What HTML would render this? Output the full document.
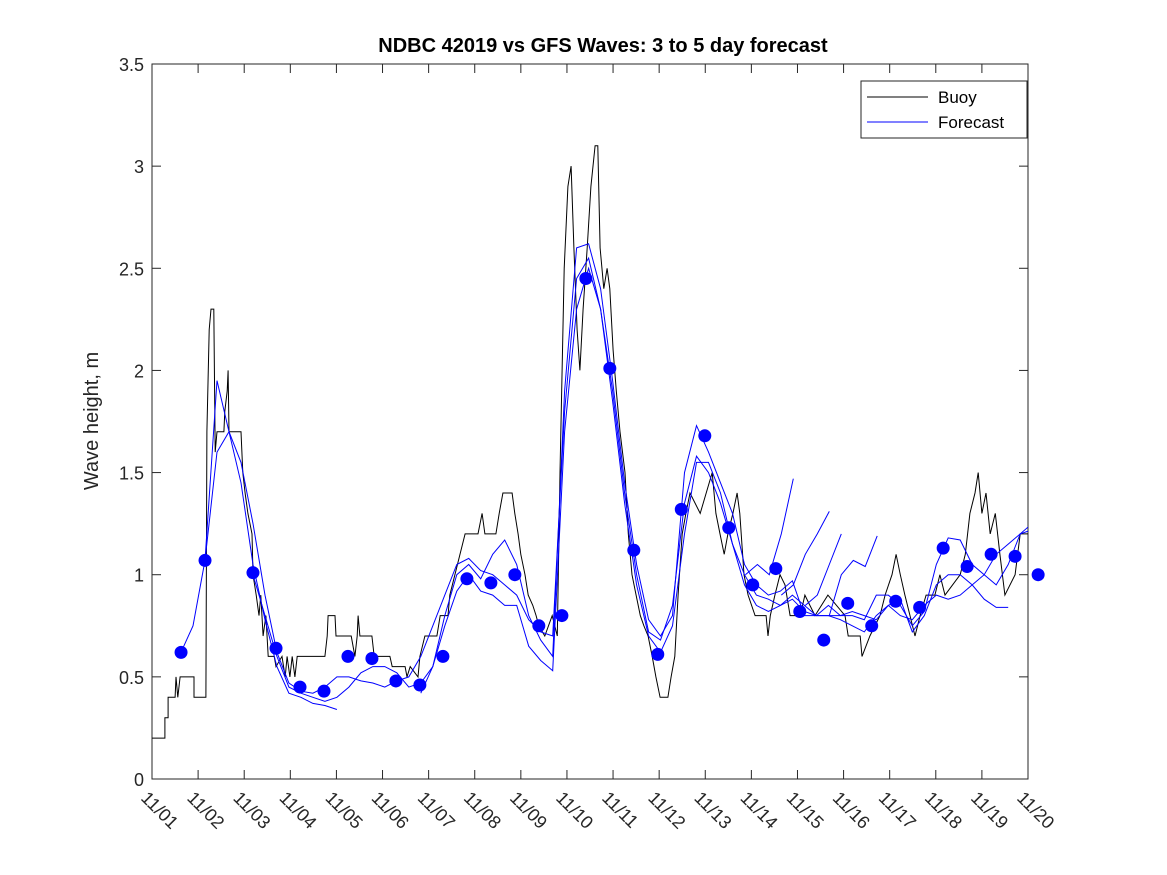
<!DOCTYPE html>
<html><head><meta charset="utf-8"><style>
body{margin:0;background:#fff;}
svg{display:block;font-family:"Liberation Sans","DejaVu Sans",sans-serif;}
</style></head><body>
<svg id="chart" width="1167" height="875" viewBox="0 0 1167 875" xmlns="http://www.w3.org/2000/svg">
<rect width="1167" height="875" fill="#fff"/>
<text x="603" y="52" text-anchor="middle" font-size="20" font-weight="bold" fill="#000">NDBC 42019 vs GFS Waves: 3 to 5 day forecast</text>
<text transform="translate(98,421) rotate(-90)" text-anchor="middle" font-size="20" fill="#262626">Wave height, m</text>
<g id="plot"></g>
<g>
<rect x="861" y="81" width="166" height="57" fill="#fff" stroke="#262626" stroke-width="1"/>
<line x1="867" y1="97" x2="928" y2="97" stroke="#000" stroke-width="1"/>
<text x="938" y="103" font-size="17" fill="#000">Buoy</text>
<line x1="867" y1="122" x2="928" y2="122" stroke="#0000ff" stroke-width="1"/>
<text x="938" y="128" font-size="17" fill="#000">Forecast</text>
</g>
</svg>
<script>
const yTicks=[0,0.5,1,1.5,2,2.5,3,3.5];
const yTickLabels=["0","0.5","1","1.5","2","2.5","3","3.5"];
const xTickLabels=["11/01","11/02","11/03","11/04","11/05","11/06","11/07","11/08","11/09","11/10","11/11","11/12","11/13","11/14","11/15","11/16","11/17","11/18","11/19","11/20"];
// buoy observations: day offsets from 11/01 and heights (m)
const buoyDays=[0,0.28,0.28,0.35,0.35,0.50,0.52,0.56,0.61,0.91,0.91,1.17,1.19,1.24,1.28,1.34,1.37,1.41,1.56,1.58,1.63,1.65,1.67,1.82,1.93,1.97,2.02,2.08,2.17,2.19,2.26,2.32,2.36,2.41,2.47,2.52,2.65,2.69,2.82,2.89,2.93,2.99,3.04,3.10,3.15,3.75,3.80,3.82,3.97,3.99,4.32,4.40,4.45,4.47,4.51,4.77,4.82,5.16,5.21,5.49,5.53,5.60,5.77,5.81,5.92,6.18,6.25,6.42,6.46,6.57,6.68,6.79,7.07,7.16,7.22,7.46,7.53,7.61,7.81,7.87,7.94,8.00,8.09,8.16,8.26,8.33,8.39,8.52,8.68,8.79,8.85,8.94,9.02,9.09,9.15,9.22,9.28,9.35,9.44,9.52,9.61,9.67,9.72,9.80,9.87,9.93,10.00,10.07,10.15,10.26,10.33,10.41,10.50,10.59,10.67,10.76,10.85,10.93,11.02,11.19,11.26,11.34,11.41,11.50,11.58,11.67,11.89,12.02,12.15,12.23,12.32,12.41,12.49,12.60,12.69,12.75,12.84,12.93,13.08,13.32,13.36,13.41,13.51,13.62,13.73,13.84,14.06,14.16,14.27,14.38,14.66,15.03,15.10,15.36,15.40,15.57,15.79,15.90,16.05,16.14,16.23,16.33,16.44,16.55,16.66,16.79,16.98,17.09,17.20,17.53,17.64,17.74,17.85,17.92,18.00,18.09,18.18,18.29,18.39,18.50,18.72,18.83,19.00];
const buoyVals=[0.2,0.2,0.3,0.3,0.4,0.4,0.5,0.4,0.5,0.5,0.4,0.4,1.7,2.2,2.3,2.3,1.6,1.7,1.7,1.8,1.9,2.0,1.7,1.7,1.7,1.5,1.4,1.3,1.2,1.0,0.9,0.8,0.9,0.7,0.8,0.6,0.6,0.55,0.6,0.5,0.6,0.5,0.6,0.5,0.6,0.6,0.7,0.8,0.8,0.7,0.7,0.6,0.7,0.8,0.7,0.7,0.6,0.6,0.55,0.55,0.5,0.55,0.5,0.6,0.7,0.7,0.8,0.8,0.9,1.0,1.1,1.2,1.2,1.3,1.2,1.2,1.3,1.4,1.4,1.3,1.2,1.1,1.0,0.9,0.85,0.8,0.75,0.7,0.8,0.7,1.5,2.5,2.9,3.0,2.6,2.2,2.0,2.3,2.6,2.9,3.1,3.1,2.6,2.4,2.5,2.4,2.1,1.9,1.7,1.5,1.2,1.0,0.9,0.8,0.75,0.7,0.6,0.5,0.4,0.4,0.5,0.6,0.9,1.2,1.3,1.4,1.3,1.4,1.5,1.3,1.2,1.1,1.2,1.3,1.4,1.3,1.0,0.9,0.8,0.8,0.7,0.8,0.9,1.0,0.95,0.8,0.8,0.9,0.85,0.8,0.9,0.8,0.7,0.7,0.6,0.7,0.8,0.9,1.0,1.1,1.0,0.9,0.8,0.7,0.8,0.9,0.9,1.0,0.9,1.0,1.1,1.3,1.4,1.5,1.3,1.4,1.2,1.3,1.1,0.9,1.0,1.2,1.2];
// forecast runs: start day, values every 0.26 day
const fcStep=0.26;
const fcStarts=[0.63,1.15,2.19,5.83,12.87,13.65,14.17,14.69];
const fcLineA=[0.62,0.75,1.07,1.95,1.7,1.45,1.05,0.78,0.55,0.42,0.4,0.37,0.36,0.34];
const fcLineB=[1.07,1.6,1.7,1.55,1.25,0.9,0.62,0.47,0.43,0.42,0.45,0.5,0.5,0.48,0.47,0.45,0.48,0.5,0.6,0.75,0.9,1.05,1.08,1.02,1.0,0.95,0.9,0.78,0.72,0.7,1.8,2.45,2.55,2.3,1.9,1.4,1.0,0.72,0.68,0.85,1.35,1.58,1.5,1.35,1.15,1.0,0.9,0.88,0.85,0.9,0.85,0.8,0.8,0.8,0.82,0.8,0.78,0.85,0.8,0.78,0.85,0.9,0.88,0.9,0.95,1.0,1.1,1.15,1.2,1.22];
const fcLineC=[1.0,0.8,0.6,0.45,0.42,0.4,0.38,0.4,0.45,0.52,0.55,0.55,0.52,0.45,0.47,0.55,0.8,1.0,1.05,0.98,1.1,1.17,1.05,0.8,0.68,0.6,1.9,2.6,2.62,2.4,1.95,1.45,1.05,0.78,0.7,0.8,1.5,1.73,1.6,1.45,1.3,1.05,0.95,0.9,0.92,0.97,0.8,0.8,0.85,0.8,0.8,0.78,0.9,0.9,0.85,0.75,0.82,1.05,1.18,1.17,1.05,1.0,0.95,1.05,1.2,1.25];
const fcLineD=[0.42,0.55,0.75,0.92,1.0,0.92,0.9,0.85,0.85,0.65,0.58,0.53,1.7,2.3,2.5,2.3,1.85,1.35,0.95,0.7,0.62,0.75,1.2,1.55,1.55,1.4,1.15,0.95,0.85,0.82,0.85,0.88,0.82,0.8,0.8,0.78,0.75,0.72,0.8,0.85,0.88,0.72,0.8,0.95,1.0,1.0,0.95,0.88,0.84,0.84];
const fcLineE=[1.0,1.05,1.0,1.2,1.47];
const fcLineF=[0.9,0.95,1.1,1.2,1.31];
const fcLineG=[0.85,0.9,1.05,1.2];
const fcLineH=[0.8,1.0,1.07,1.04,1.19];
const fcLines=[fcLineA,fcLineB,fcLineC,fcLineD,fcLineE,fcLineF,fcLineG,fcLineH];
const dotDays=[0.63,1.15,2.19,2.69,3.21,3.73,4.25,4.77,5.29,5.81,6.31,6.83,7.35,7.87,8.39,8.89,9.41,9.93,10.45,10.97,11.48,11.99,12.51,13.03,13.53,14.05,14.57,15.09,15.61,16.13,16.65,17.16,17.68,18.2,18.72,19.22];
const dotVals=[0.62,1.07,1.01,0.64,0.45,0.43,0.6,0.59,0.48,0.46,0.6,0.98,0.96,1.0,0.75,0.8,2.45,2.01,1.12,0.61,1.32,1.68,1.23,0.95,1.03,0.82,0.68,0.86,0.75,0.87,0.84,1.13,1.04,1.10,1.09,1.0];

const X0=152,X1=1028,Y0=779,Y1=64,DAYS=19,YMAX=3.5;
const sx=d=>X0+(X1-X0)*d/DAYS;
const sy=v=>Y0-(Y0-Y1)*v/YMAX;
const NS="http://www.w3.org/2000/svg";
const plot=document.getElementById('plot');
function mk(t,a,p){const e=document.createElementNS(NS,t);for(const k in a)e.setAttribute(k,a[k]);(p||plot).appendChild(e);return e;}
const clip=mk('clipPath',{id:'pc'});mk('rect',{x:X0,y:Y1,width:X1-X0,height:Y0-Y1},clip);
const frame=mk('rect',{x:X0,y:Y1,width:X1-X0,height:Y0-Y1,fill:'none',stroke:'#262626','stroke-width':1});


yTicks.forEach((v,i)=>{
 const y=sy(v);
 mk('line',{x1:X0,y1:y,x2:X0+9,y2:y,stroke:'#262626'});
 mk('line',{x1:X1,y1:y,x2:X1-9,y2:y,stroke:'#262626'});
 const t=mk('text',{x:X0-8,y:y+7,'text-anchor':'end','font-size':18,fill:'#262626'});
 t.textContent=yTickLabels[i];
 
 
});
xTickLabels.forEach((l,i)=>{
 const x=sx(i);
 mk('line',{x1:x,y1:Y0,x2:x,y2:Y0-9,stroke:'#262626'});
 mk('line',{x1:x,y1:Y1,x2:x,y2:Y1+9,stroke:'#262626'});
 const t=mk('text',{transform:`translate(${x-12},${Y0+20}) rotate(45)`,'font-size':18,fill:'#262626'});
 t.textContent=l;
 
 
});
const g=mk('g',{'clip-path':'url(#pc)'});
const bp=buoyDays.map((d,i)=>sx(d).toFixed(1)+','+sy(buoyVals[i]).toFixed(1)).join(' ');
const bl=mk('polyline',{points:bp,fill:'none',stroke:'#000','stroke-width':1},g);


fcLines.forEach((vals,k)=>{
 const p=vals.map((v,i)=>sx(fcStarts[k]+i*fcStep).toFixed(1)+','+sy(v).toFixed(1)).join(' ');
 const l=mk('polyline',{points:p,fill:'none',stroke:'#0000ff','stroke-width':1},g);
 
 
});
dotDays.forEach((d,i)=>{
 const c=mk('circle',{cx:sx(d),cy:sy(dotVals[i]),r:6.5,fill:'#0000ff'});
 
 
});
</script>
</body></html>
